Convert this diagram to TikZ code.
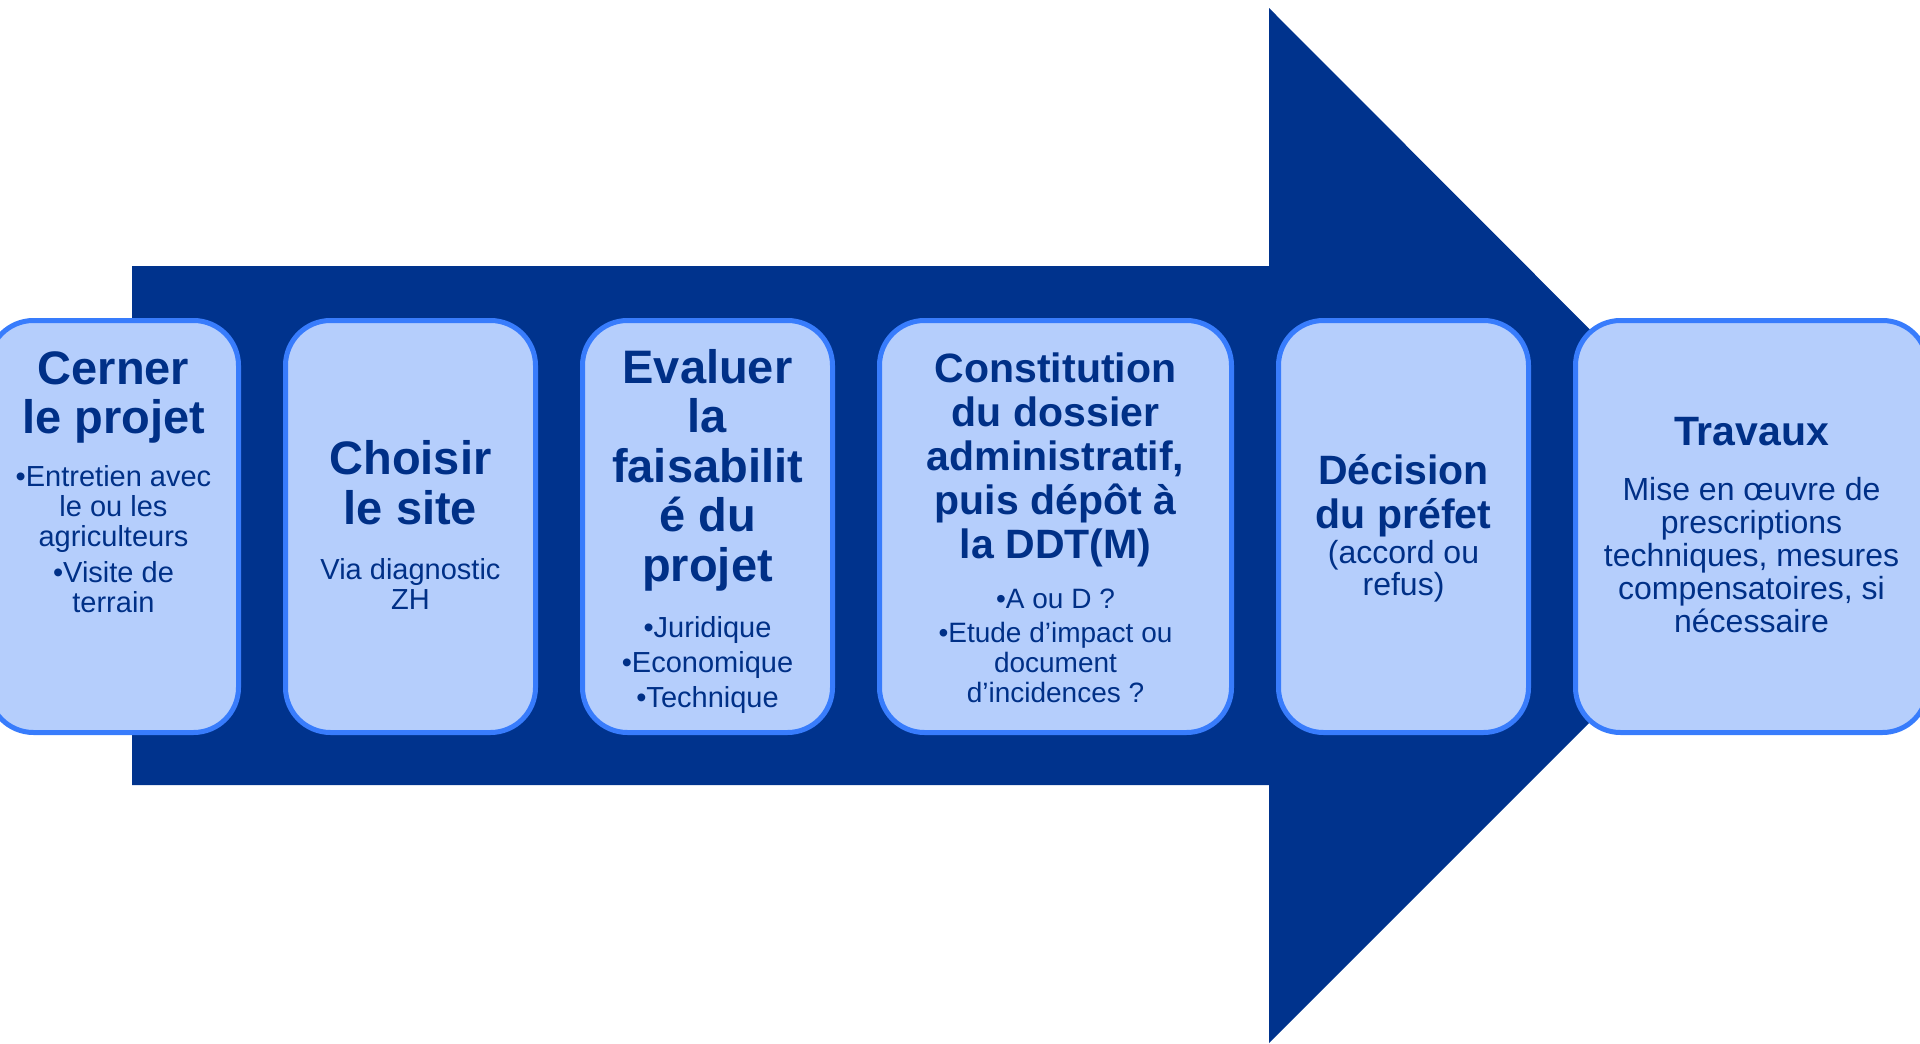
\documentclass[tikz,border=0pt]{standalone}
\usepackage{fontspec}
\setmainfont{Liberation Sans}
\usetikzlibrary{positioning}

\definecolor{marine}{RGB}{0,51,141}
\definecolor{bordure}{RGB}{56,124,252}
\definecolor{fond}{RGB}{181,206,252}
\definecolor{encre}{RGB}{0,48,135}

\newcommand{\titre}[3][41]{{\fontsize{#1}{#2}\selectfont\bfseries #3\par}}
\newcommand{\corps}[3][28]{{\fontsize{#1}{#2}\selectfont #3\par}}

\tikzset{
    etape/.style={draw=bordure, fill=fond, line width=5pt, rounded corners=45pt,
        minimum width=#1, minimum height=412pt, inner sep=0pt},
    etape/.default=250pt,
    texte/.style={text=encre, text width=#1, align=flush center, inner sep=0pt},
    texte/.default=230pt,
}

\begin{document}
\begin{tikzpicture}[x=1pt,y=-1pt]
        \useasboundingbox (0,0) rectangle (1920,1044);
        \clip (0,0) rectangle (1920,1044);
        %% Big arrow
        \fill[marine] (132,266) -- (1269,266) -- (1269,8) -- (1786,526)
            -- (1269,1043) -- (1269,785) -- (132,785) -- cycle;
        %% Steps
        \node[etape] (e1) at (113.5,526.5) {};
        \node[etape] (e2) [right=42pt of e1] {};
        \node[etape] (e3) [right=42pt of e2] {};
        \node[etape=352pt] (e4) [right=42pt of e3] {};
        \node[etape] (e5) [right=42pt of e4] {};
        \node[etape=352pt] (e6) [right=42pt of e5] {};
        %% Texts
        \node[texte] (t1) [below=33pt of e1.north] {\titre[47]{49}{Cerner\\le projet}\vspace{22pt}
            \corps[29]{30}{•Entretien avec\\le ou les\\agriculteurs}\vspace{6pt}\corps[29]{30}{•Visite de\\terrain}};
        \node[texte] (t2) [below=122pt of e2.north] {\titre[47]{50}{Choisir\\le site}\vspace{25pt}
            \corps[29]{30}{Via diagnostic\\ZH}};
        \node[texte] (t3) [below=31pt of e3.north] {\titre[47]{49.5}{Evaluer\\la\\faisabilit\\é du\\projet}\vspace{21pt}
            \corps[29]{35}{•Juridique\\•Economique\\•Technique}};
        \node[texte=330pt] (t4) [below=35pt of e4.north] {\titre{44}{Constitution\\du dossier\\administratif,\\puis dépôt à\\la DDT(M)}\vspace{20pt}
            \corps{30}{•A ou D ?}\vspace{4pt}\corps{30}{•Etude d’impact ou\\document\\d’incidences ?}};
        \node[texte] (t5) [below=136pt of e5.north] {\titre{44}{Décision\\du préfet}\vspace{3pt}
            \corps[32]{32}{(accord ou\\refus)}};
        \node[texte=340pt] (t6) [below=99pt of e6.north] {\titre{49}{Travaux}\vspace{22pt}
            \corps[32]{33}{Mise en œuvre de\\prescriptions\\techniques, mesures\\compensatoires, si\\nécessaire}};
\end{tikzpicture}
\end{document}
